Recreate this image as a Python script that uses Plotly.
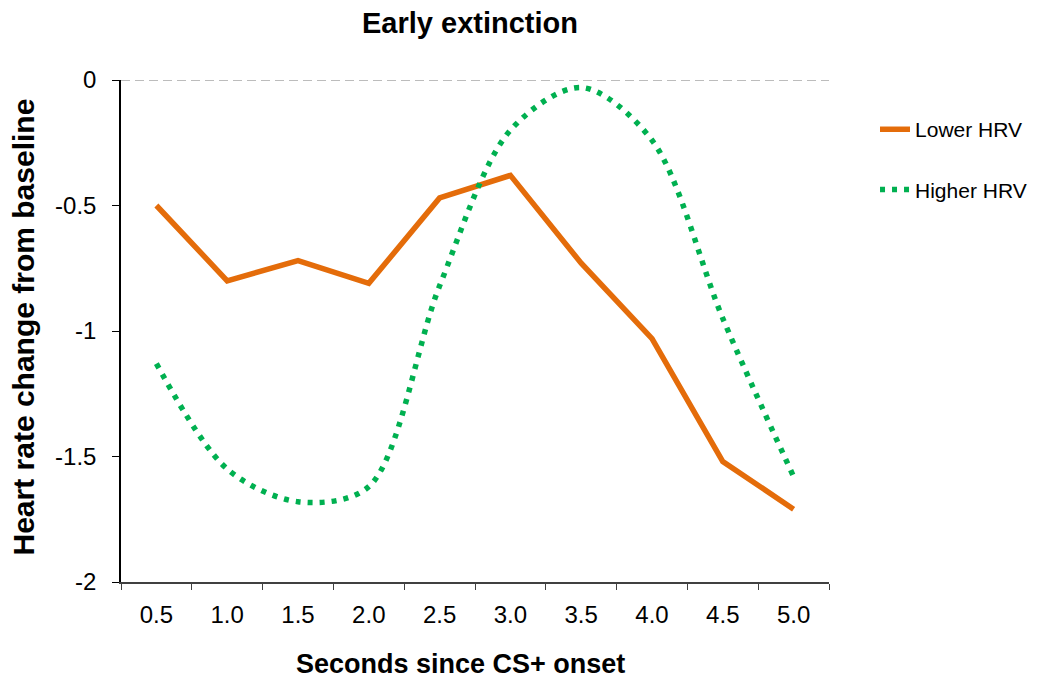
import plotly.graph_objects as go

categories = ["0.5", "1.0", "1.5", "2.0", "2.5", "3.0", "3.5", "4.0", "4.5", "5.0"]
lower_hrv = [-0.50, -0.80, -0.72, -0.81, -0.47, -0.38, -0.73, -1.03, -1.52, -1.71]
higher_hrv = [-1.13, -1.55, -1.68, -1.62, -0.82, -0.20, -0.03, -0.24, -0.95, -1.58]
y_ticks = [-2, -1.5, -1, -0.5, 0]
y_tick_labels = ["-2", "-1.5", "-1", "-0.5", "0"]

FONT = "Liberation Sans, Arial, sans-serif"

fig = go.Figure()
fig.add_trace(go.Scatter(
    x=categories, y=lower_hrv, name="Lower HRV", mode="lines",
    line=dict(color="#E46C0A", width=5.5), legendgroup="a"))
fig.add_trace(go.Scatter(
    x=categories, y=higher_hrv, name="Higher HRV", mode="lines",
    line=dict(color="#00B050", width=5.5, dash="5px,7px", shape="spline", smoothing=0.9),
    legendgroup="b"))

fig.add_shape(type="line", xref="paper", yref="y", x0=0, x1=1, y0=0, y1=0,
              line=dict(color="#A6A6A6", width=1.5, dash="9px,5px"), layer="below")

fig.add_annotation(text="<b>Early extinction</b>", xref="paper", yref="paper",
                   x=0.493, y=1, yshift=57, showarrow=False, xanchor="center", yanchor="middle",
                   font=dict(size=29))
fig.add_annotation(text="<b>Heart rate change from baseline</b>", xref="paper", yref="paper",
                   x=0, xshift=-98, y=0.507, textangle=-90, showarrow=False,
                   xanchor="center", yanchor="middle", font=dict(size=30))
fig.add_annotation(text="<b>Seconds since CS+ onset</b>", xref="paper", yref="paper",
                   x=0.479, y=0, yshift=-82, showarrow=False, xanchor="center", yanchor="middle",
                   font=dict(size=27))

fig.update_layout(
    width=1042, height=678,
    margin=dict(l=113, r=221, t=72, b=104),
    plot_bgcolor="white", paper_bgcolor="white",
    font=dict(family=FONT, size=24, color="black"),
    legend=dict(x=1.065, y=0.942, xanchor="left", yanchor="top",
                font=dict(size=21), tracegroupgap=30, bgcolor="rgba(0,0,0,0)"),
    xaxis=dict(type="category", range=[-0.5, 9.5], tickson="boundaries",
               ticks="outside", ticklen=6, tickcolor="#404040", ticklabelstandoff=10,
               showline=True, linecolor="#404040", linewidth=1.5,
               showgrid=False, zeroline=False),
    yaxis=dict(range=[-2, 0], tickvals=y_ticks, ticktext=y_tick_labels,
               ticks="outside", ticklen=7, tickcolor="black", ticklabelstandoff=11,
               showline=True, linecolor="black", linewidth=1.5,
               showgrid=False, zeroline=False),
)

fig.write_html("out.html")
